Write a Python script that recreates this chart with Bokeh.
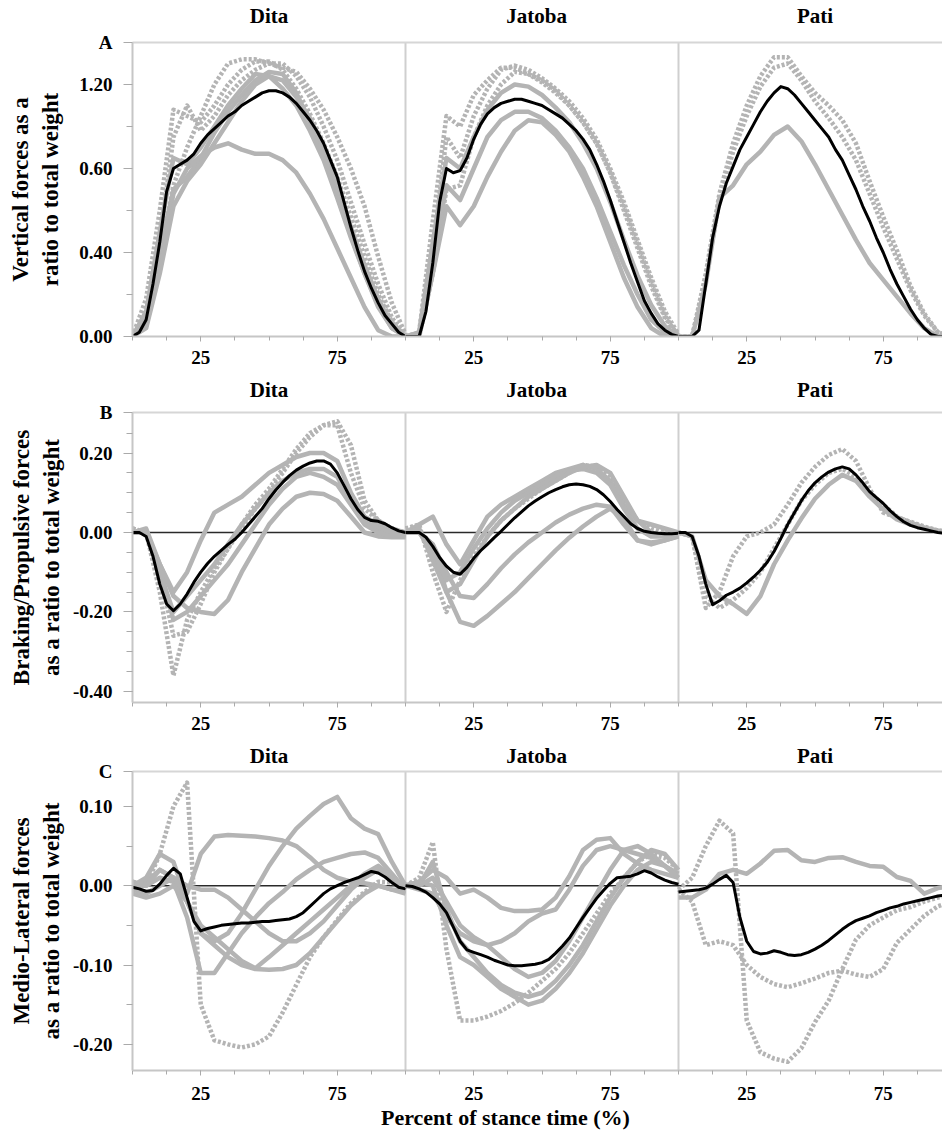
from bokeh.plotting import figure
from bokeh.layouts import column
from bokeh.models import FixedTicker, Span, LinearAxis, NumeralTickFormatter, Range1d
from bokeh.embed import file_html
from bokeh.resources import INLINE

# ---------------------------------------------------------------- data
SUBJECTS = ["Dita", "Jatoba", "Pati"]
X_TRIAL = [5 * i for i in range(21)]        # % stance, individual trials
X_MEAN = [2.5 * i for i in range(41)]       # % stance, mean curves

# A: vertical force / total weight
VERT_MEAN_DITA = [0.00, 0.02, 0.08, 0.25, 0.45, 0.69, 0.80, 0.82, 0.84, 0.87, 0.92, 0.96, 0.99, 1.02,
                  1.05, 1.07, 1.10, 1.12, 1.14, 1.16, 1.17, 1.17, 1.16, 1.14, 1.11, 1.07, 1.03, 0.98,
                  0.92, 0.84, 0.76, 0.64, 0.52, 0.41, 0.31, 0.23, 0.16, 0.10, 0.06, 0.02, 0.00]
VERT_MEAN_JATOBA = [0, 0, 0, 0.12, 0.35, 0.64, 0.80, 0.78, 0.79, 0.85, 0.94, 1.01, 1.06, 1.09, 1.11,
                    1.12, 1.13, 1.13, 1.12, 1.11, 1.10, 1.08, 1.06, 1.04, 1.01, 0.98, 0.94, 0.89, 0.82,
                    0.74, 0.65, 0.55, 0.45, 0.35, 0.26, 0.17, 0.11, 0.06, 0.03, 0.01, 0]
VERT_MEAN_PATI = [0, 0, 0, 0.03, 0.25, 0.47, 0.62, 0.73, 0.81, 0.89, 0.95, 1.01, 1.07, 1.12, 1.16, 1.19,
                  1.18, 1.15, 1.11, 1.07, 1.03, 0.99, 0.95, 0.89, 0.84, 0.77, 0.70, 0.62, 0.55, 0.47,
                  0.40, 0.32, 0.25, 0.19, 0.13, 0.08, 0.04, 0.01, 0, 0, 0]
VERT_TRIALS_DITA = [
    [0, 0.18, 0.60, 1.08, 1.05, 1.02, 1.10, 1.20, 1.27, 1.31, 1.31, 1.27, 1.18, 1.06, 0.92, 0.76, 0.57, 0.38, 0.20, 0.07, 0],
    [0, 0.10, 0.45, 0.95, 1.10, 0.98, 1.05, 1.15, 1.22, 1.27, 1.30, 1.30, 1.24, 1.14, 1.00, 0.84, 0.64, 0.44, 0.25, 0.09, 0],
    [0, 0.08, 0.40, 0.70, 0.76, 0.85, 0.97, 1.07, 1.15, 1.22, 1.26, 1.25, 1.16, 1.02, 0.86, 0.68, 0.48, 0.30, 0.15, 0.04, 0],
    [0, 0.05, 0.35, 0.68, 0.80, 0.86, 0.90, 0.92, 0.89, 0.87, 0.87, 0.84, 0.78, 0.68, 0.56, 0.42, 0.28, 0.14, 0.03, 0.0, 0],
    [0, 0.06, 0.38, 0.72, 0.90, 1.05, 1.20, 1.30, 1.32, 1.32, 1.30, 1.28, 1.26, 1.18, 1.08, 0.95, 0.80, 0.62, 0.38, 0.16, 0.01],
    [0, 0.12, 0.50, 0.85, 0.82, 0.90, 1.00, 1.10, 1.18, 1.25, 1.24, 1.18, 1.10, 0.98, 0.84, 0.66, 0.47, 0.30, 0.14, 0.04, 0],
    [0, 0.04, 0.30, 0.62, 0.74, 0.82, 0.92, 1.02, 1.12, 1.20, 1.24, 1.22, 1.14, 1.04, 0.90, 0.72, 0.52, 0.34, 0.18, 0.05, 0],
]
VERT_TRIALS_JATOBA = [
    [0, 0.02, 0.55, 1.05, 1.00, 1.15, 1.22, 1.28, 1.28, 1.25, 1.21, 1.16, 1.10, 1.02, 0.92, 0.78, 0.60, 0.42, 0.24, 0.09, 0],
    [0, 0.01, 0.40, 0.95, 0.85, 1.05, 1.18, 1.27, 1.29, 1.27, 1.23, 1.18, 1.12, 1.04, 0.94, 0.80, 0.64, 0.46, 0.28, 0.12, 0.01],
    [0, 0.0, 0.30, 0.62, 0.53, 0.62, 0.76, 0.88, 0.98, 1.03, 1.02, 0.96, 0.88, 0.76, 0.62, 0.45, 0.28, 0.14, 0.04, 0.0, 0],
    [0, 0.01, 0.35, 0.72, 0.65, 0.80, 0.95, 1.03, 1.07, 1.07, 1.04, 0.98, 0.90, 0.80, 0.66, 0.50, 0.34, 0.20, 0.08, 0.02, 0],
    [0, 0.02, 0.45, 0.85, 0.80, 0.95, 1.08, 1.16, 1.20, 1.19, 1.15, 1.09, 1.02, 0.92, 0.80, 0.64, 0.46, 0.29, 0.15, 0.05, 0],
    [0, 0.0, 0.30, 0.70, 0.72, 0.95, 1.10, 1.20, 1.26, 1.25, 1.22, 1.17, 1.10, 1.02, 0.92, 0.78, 0.62, 0.44, 0.26, 0.10, 0.0],
]
VERT_TRIALS_PATI = [
    [0, 0, 0.30, 0.68, 0.92, 1.10, 1.24, 1.33, 1.33, 1.24, 1.16, 1.10, 1.03, 0.92, 0.74, 0.57, 0.41, 0.24, 0.11, 0.02, 0],
    [0, 0, 0.28, 0.65, 0.88, 1.05, 1.19, 1.28, 1.30, 1.22, 1.12, 1.04, 0.95, 0.84, 0.68, 0.52, 0.37, 0.22, 0.10, 0.02, 0],
    [0, 0, 0.25, 0.66, 0.72, 0.82, 0.88, 0.96, 1.00, 0.93, 0.82, 0.70, 0.58, 0.46, 0.35, 0.27, 0.19, 0.11, 0.04, 0.0, 0],
]

# B: braking / propulsive force / total weight
BRAKE_MEAN_DITA = [0, 0, -0.01, -0.06, -0.13, -0.18, -0.197, -0.18, -0.155, -0.125, -0.10, -0.078, -0.06,
                   -0.045, -0.03, -0.017, 0.0, 0.02, 0.04, 0.06, 0.085, 0.107, 0.126, 0.143, 0.157, 0.167,
                   0.175, 0.18, 0.18, 0.172, 0.15, 0.118, 0.085, 0.058, 0.038, 0.03, 0.028, 0.022, 0.012,
                   0.004, 0]
BRAKE_MEAN_JATOBA = [0, 0, 0, -0.012, -0.035, -0.063, -0.085, -0.100, -0.105, -0.088, -0.065, -0.046, -0.03,
                     -0.013, 0.003, 0.02, 0.037, 0.052, 0.067, 0.079, 0.09, 0.10, 0.108, 0.115, 0.12, 0.122,
                     0.12, 0.116, 0.108, 0.095, 0.078, 0.058, 0.04, 0.022, 0.01, 0.003, 0.0, -0.002, -0.003,
                     -0.003, -0.002]
BRAKE_MEAN_PATI = [0, 0, -0.01, -0.06, -0.13, -0.182, -0.172, -0.158, -0.15, -0.14, -0.127, -0.112, -0.095,
                   -0.075, -0.048, -0.015, 0.02, 0.05, 0.08, 0.105, 0.125, 0.14, 0.152, 0.16, 0.165, 0.16,
                   0.145, 0.125, 0.103, 0.088, 0.073, 0.055, 0.04, 0.027, 0.018, 0.012, 0.008, 0.004, 0.0,
                   -0.002, -0.004]
BRAKE_TRIALS_DITA = [
    [0.01, 0.0, -0.15, -0.36, -0.22, -0.15, -0.09, -0.04, 0.01, 0.06, 0.10, 0.15, 0.20, 0.24, 0.27, 0.27, 0.15, 0.06, 0.03, 0.01, 0],
    [0.01, 0.0, -0.10, -0.26, -0.25, -0.18, -0.10, -0.04, 0.02, 0.07, 0.11, 0.16, 0.21, 0.25, 0.27, 0.28, 0.22, 0.08, 0.03, 0.01, 0],
    [0.0, 0.01, -0.08, -0.15, -0.10, -0.02, 0.05, 0.07, 0.09, 0.12, 0.15, 0.17, 0.19, 0.20, 0.20, 0.18, 0.10, 0.04, 0.02, 0.0, -0.01],
    [0.0, 0.0, -0.08, -0.16, -0.19, -0.20, -0.205, -0.17, -0.10, -0.04, 0.02, 0.06, 0.09, 0.10, 0.097, 0.08, 0.04, 0.0, -0.01, -0.012, -0.012],
    [0.0, 0.0, -0.10, -0.20, -0.16, -0.12, -0.08, -0.03, 0.02, 0.06, 0.10, 0.13, 0.15, 0.16, 0.16, 0.14, 0.08, 0.03, 0.01, 0.0, -0.01],
    [0.0, 0.0, -0.09, -0.22, -0.20, -0.16, -0.12, -0.08, -0.03, 0.02, 0.07, 0.11, 0.14, 0.15, 0.14, 0.12, 0.07, 0.02, 0.0, -0.01, -0.01],
]
BRAKE_TRIALS_JATOBA = [
    [0, 0, -0.03, -0.15, -0.225, -0.235, -0.21, -0.18, -0.15, -0.115, -0.08, -0.045, -0.013, 0.015, 0.04, 0.06, 0.035, -0.02, -0.03, -0.02, -0.01],
    [0, 0, -0.03, -0.10, -0.16, -0.165, -0.13, -0.09, -0.055, -0.025, 0.0, 0.025, 0.045, 0.06, 0.07, 0.065, 0.02, -0.02, -0.025, -0.02, -0.01],
    [0.01, 0.02, -0.10, -0.20, -0.12, -0.06, -0.01, 0.03, 0.06, 0.085, 0.11, 0.13, 0.15, 0.17, 0.165, 0.14, 0.08, 0.03, 0.01, 0.0, 0.0],
    [0, 0.02, 0.04, -0.03, -0.08, -0.02, 0.04, 0.07, 0.09, 0.11, 0.13, 0.15, 0.16, 0.17, 0.16, 0.13, 0.07, 0.03, 0.02, 0.01, 0.0],
    [0, 0.0, -0.05, -0.12, -0.10, -0.04, 0.01, 0.05, 0.08, 0.10, 0.12, 0.14, 0.155, 0.16, 0.15, 0.12, 0.06, 0.01, -0.01, -0.01, 0.0],
    [0, 0.01, -0.07, -0.15, -0.13, -0.07, -0.01, 0.03, 0.06, 0.09, 0.11, 0.13, 0.15, 0.165, 0.17, 0.15, 0.09, 0.03, 0.0, -0.01, -0.01],
]
BRAKE_TRIALS_PATI = [
    [0, -0.01, -0.19, -0.15, -0.06, -0.01, 0.0, 0.02, 0.07, 0.125, 0.165, 0.195, 0.21, 0.18, 0.11, 0.05, 0.038, 0.027, 0.015, 0.005, 0.0],
    [0, -0.01, -0.12, -0.16, -0.18, -0.205, -0.16, -0.08, -0.02, 0.035, 0.085, 0.12, 0.145, 0.13, 0.09, 0.058, 0.033, 0.02, 0.012, 0.005, 0.0],
    [0, -0.01, -0.16, -0.19, -0.17, -0.14, -0.10, -0.04, 0.02, 0.08, 0.12, 0.15, 0.16, 0.14, 0.10, 0.07, 0.04, 0.025, 0.012, 0.003, 0.0],
]

# C: medio-lateral force / total weight
ML_MEAN_DITA = [-0.002, -0.004, -0.007, -0.006, 0.002, 0.013, 0.022, 0.015, -0.015, -0.045, -0.057, -0.054,
                -0.052, -0.05, -0.049, -0.048, -0.047, -0.047, -0.046, -0.045, -0.045, -0.044, -0.043, -0.042,
                -0.039, -0.034, -0.026, -0.018, -0.01, -0.004, 0.0, 0.004, 0.007, 0.01, 0.014, 0.018, 0.016,
                0.011, 0.004, -0.002, -0.004]
ML_MEAN_JATOBA = [0, -0.001, -0.004, -0.008, -0.015, -0.023, -0.034, -0.052, -0.07, -0.081, -0.084, -0.087,
                  -0.09, -0.094, -0.097, -0.1, -0.101, -0.101, -0.1, -0.099, -0.097, -0.093, -0.085, -0.076,
                  -0.066, -0.053, -0.04, -0.028, -0.016, -0.006, 0.003, 0.01, 0.011, 0.012, 0.015, 0.019,
                  0.016, 0.011, 0.007, 0.004, 0.002]
ML_MEAN_PATI = [-0.008, -0.007, -0.006, -0.005, -0.003, 0.002, 0.008, 0.013, 0.004, -0.04, -0.07, -0.083,
                -0.086, -0.085, -0.082, -0.084, -0.087, -0.088, -0.087, -0.084, -0.08, -0.075, -0.069, -0.062,
                -0.055, -0.049, -0.044, -0.041, -0.038, -0.034, -0.031, -0.028, -0.026, -0.023, -0.021,
                -0.019, -0.017, -0.015, -0.013, -0.012, -0.011]
ML_TRIALS_DITA = [
    [0.005, 0.0, 0.04, 0.10, 0.13, -0.15, -0.195, -0.20, -0.204, -0.2, -0.19, -0.16, -0.125, -0.09, -0.065, -0.043, -0.022, -0.008, 0.005, 0.004, -0.002],
    [0.0, 0.005, 0.02, 0.01, -0.01, 0.04, 0.062, 0.064, 0.063, 0.062, 0.06, 0.057, 0.05, 0.036, 0.02, 0.01, 0.005, 0.003, 0.0, -0.005, -0.005],
    [0.0, 0.01, 0.04, 0.03, -0.02, -0.06, -0.07, -0.06, -0.035, -0.005, 0.025, 0.05, 0.072, 0.088, 0.103, 0.112, 0.085, 0.072, 0.065, 0.03, 0.0],
    [0.0, 0.0, 0.01, 0.005, -0.04, -0.11, -0.11, -0.085, -0.06, -0.04, -0.022, -0.008, 0.008, 0.02, 0.03, 0.035, 0.04, 0.042, 0.035, 0.015, -0.005],
    [-0.005, -0.01, 0.0, 0.01, -0.02, -0.05, -0.065, -0.08, -0.095, -0.104, -0.09, -0.075, -0.06, -0.045, -0.03, -0.015, 0.0, 0.015, 0.025, 0.012, -0.005],
    [-0.01, -0.015, -0.01, 0.0, -0.02, -0.06, -0.075, -0.09, -0.1, -0.105, -0.106, -0.105, -0.1, -0.085, -0.065, -0.045, -0.025, -0.01, 0.0, -0.005, -0.01],
    [0.005, 0.0, 0.02, 0.01, 0.0, -0.005, -0.005, -0.015, -0.03, -0.045, -0.06, -0.07, -0.07, -0.06, -0.045, -0.025, -0.005, 0.01, 0.02, 0.01, -0.005],
]
ML_TRIALS_JATOBA = [
    [0.0, 0.01, 0.055, -0.08, -0.17, -0.17, -0.165, -0.158, -0.148, -0.135, -0.12, -0.105, -0.085, -0.06, -0.035, -0.01, 0.01, 0.03, 0.04, 0.035, 0.02],
    [0.0, 0.005, 0.02, 0.01, -0.01, -0.005, -0.015, -0.028, -0.032, -0.032, -0.03, -0.015, 0.012, 0.045, 0.058, 0.06, 0.04, 0.028, 0.02, 0.015, 0.01],
    [0.0, 0.0, 0.03, -0.03, -0.07, -0.09, -0.11, -0.125, -0.135, -0.14, -0.135, -0.12, -0.1, -0.075, -0.045, -0.015, 0.01, 0.03, 0.045, 0.04, 0.02],
    [0.0, -0.005, -0.01, -0.04, -0.06, -0.07, -0.075, -0.07, -0.06, -0.045, -0.035, -0.03, -0.005, 0.025, 0.045, 0.05, 0.045, 0.04, 0.035, 0.025, 0.015],
    [0.0, 0.005, 0.0, -0.05, -0.09, -0.1, -0.115, -0.13, -0.14, -0.15, -0.145, -0.13, -0.11, -0.085, -0.055, -0.025, 0.0, 0.02, 0.03, 0.025, 0.01],
    [0.0, 0.0, 0.01, -0.02, -0.05, -0.065, -0.075, -0.09, -0.105, -0.115, -0.11, -0.095, -0.07, -0.04, -0.01, 0.02, 0.045, 0.05, 0.04, 0.025, 0.01],
]
ML_TRIALS_PATI = [
    [-0.005, 0.01, 0.05, 0.082, 0.066, -0.17, -0.21, -0.218, -0.222, -0.205, -0.172, -0.145, -0.105, -0.068, -0.05, -0.04, -0.031, -0.027, -0.02, -0.015, -0.012],
    [-0.015, -0.015, -0.005, 0.015, 0.02, 0.015, 0.028, 0.044, 0.045, 0.032, 0.03, 0.035, 0.036, 0.03, 0.025, 0.024, 0.011, 0.006, -0.01, -0.003, 0.0],
    [-0.005, -0.02, -0.075, -0.07, -0.075, -0.10, -0.115, -0.124, -0.128, -0.123, -0.117, -0.11, -0.107, -0.112, -0.115, -0.105, -0.072, -0.055, -0.038, -0.026, -0.02],
]

ROW_A = dict(letter="A", ylabel="Vertical forces as a\nratio to total weight",
             means=[VERT_MEAN_DITA, VERT_MEAN_JATOBA, VERT_MEAN_PATI],
             trials=[VERT_TRIALS_DITA, VERT_TRIALS_JATOBA, VERT_TRIALS_PATI],
             yticks=[0, 0.4, 0.8, 1.2], yminor=[0.2, 0.6, 1.0], overrides={0.8: "0.60"})
ROW_B = dict(letter="B", ylabel="Braking/Propulsive forces\nas a ratio to total weight",
             means=[BRAKE_MEAN_DITA, BRAKE_MEAN_JATOBA, BRAKE_MEAN_PATI],
             trials=[BRAKE_TRIALS_DITA, BRAKE_TRIALS_JATOBA, BRAKE_TRIALS_PATI],
             yticks=[-0.4, -0.2, 0, 0.2], yminor=[round(-0.4 + 0.05 * i, 2) for i in range(14)], overrides={})
ROW_C = dict(letter="C", ylabel="Medio-Lateral forces\nas a ratio to total weight",
             means=[ML_MEAN_DITA, ML_MEAN_JATOBA, ML_MEAN_PATI],
             trials=[ML_TRIALS_DITA, ML_TRIALS_JATOBA, ML_TRIALS_PATI],
             yticks=[-0.2, -0.1, 0, 0.1], yminor=[round(-0.2 + 0.05 * i, 2) for i in range(7)], overrides={})
X_LABEL = "Percent of stance time (%)"

# ---------------------------------------------------------------- style / layout
FONT = "Liberation Serif"
GRAY = "#b4b4b4"
AXIS_GRAY = "#c6c6c6"
W = 942
LEFT = 132
PX_PER_PCT = 2.73
X_END = (W - LEFT) / PX_PER_PCT
TITLE_X = [50, 148, 250]
X_LABEL_POS = 136.6
DOTTED = {("A", 0): [0, 1, 4], ("A", 1): [0, 1, 5], ("A", 2): [0, 1],
          ("B", 0): [0, 1], ("B", 1): [2], ("B", 2): [0, 2],
          ("C", 0): [0], ("C", 1): [0], ("C", 2): [0, 2]}


def style_text(ax, size):
    ax.major_label_text_font = FONT
    ax.major_label_text_font_style = "bold"
    ax.major_label_text_font_size = size
    ax.major_label_text_color = "black"


def make_row(row, height, top, bottom, y0, y1, title_standoff, xlab_standoff, label_standoff, zero_line):
    p = figure(width=W, height=height, x_range=Range1d(0, X_END), y_range=Range1d(y0, y1),
               output_backend="svg", toolbar_location=None,
               min_border_left=LEFT, min_border_right=0, min_border_top=top, min_border_bottom=bottom)
    p.xgrid.visible = False
    p.ygrid.visible = False
    p.outline_line_color = None

    for k in (1, 2):
        p.add_layout(Span(location=100 * k, dimension="height", line_color="#cfcfcf",
                          line_width=2, level="underlay"))
    if zero_line:
        p.add_layout(Span(location=0, dimension="width", line_color="#2a2a2a",
                          line_width=1.4, level="underlay"))

    for i in range(3):
        off = 100 * i
        dotted = DOTTED.get((row["letter"], i), [])
        for j, tr in enumerate(row["trials"][i]):
            p.line([x + off for x in X_TRIAL], tr, line_color=GRAY, line_width=4.5,
                   line_dash="3 2" if j in dotted else "solid", line_join="round")
        p.line([x + off for x in X_MEAN], row["means"][i], line_color="black", line_width=3,
               line_join="round")

    # subject titles on an axis above (also draws the top border)
    top_axis = LinearAxis(ticker=FixedTicker(ticks=TITLE_X, minor_ticks=[]),
                          axis_line_color="#d6d6d6", axis_line_width=2,
                          major_tick_line_color=None, minor_tick_line_color=None,
                          major_tick_in=0, major_tick_out=0,
                          major_label_standoff=title_standoff,
                          major_label_overrides={t: s for t, s in zip(TITLE_X, SUBJECTS)})
    style_text(top_axis, "21px")
    p.add_layout(top_axis, "above")

    xa = p.below[0]
    xa.ticker = FixedTicker(ticks=[25, 75, 125, 175, 225, 275],
                            minor_ticks=[12.5 * k for k in range(25)])
    xa.major_label_overrides = {125: "25", 175: "75", 225: "25", 275: "75"}
    xa.axis_line_color = AXIS_GRAY
    xa.axis_line_width = 2
    xa.major_tick_line_color = "#aaaaaa"
    xa.minor_tick_line_color = "#aaaaaa"
    xa.major_tick_in = 0
    xa.major_tick_out = 5
    xa.minor_tick_in = 0
    xa.minor_tick_out = 4
    xa.major_label_standoff = xlab_standoff
    style_text(xa, "19px")

    overrides = dict(row["overrides"])
    overrides[y1] = row["letter"]
    ya = p.left[0]
    ya.ticker = FixedTicker(ticks=row["yticks"] + [y1], minor_ticks=row["yminor"])
    ya.formatter = NumeralTickFormatter(format="0.00")
    ya.major_label_overrides = overrides
    ya.axis_line_color = AXIS_GRAY
    ya.axis_line_width = 2
    ya.major_tick_line_color = "#aaaaaa"
    ya.minor_tick_line_color = "#aaaaaa"
    ya.major_tick_in = 0
    ya.major_tick_out = 9
    ya.minor_tick_in = 0
    ya.minor_tick_out = 6
    ya.major_label_standoff = 11
    style_text(ya, "19px")
    ya.axis_label = row["ylabel"]
    ya.axis_label_text_font = FONT
    ya.axis_label_text_font_style = "bold"
    ya.axis_label_text_font_size = "23px"
    ya.axis_label_text_color = "black"
    ya.axis_label_standoff = label_standoff
    return p


pA = make_row(ROW_A, 374, 42, 38, 0.0, 1.4, 15, 9, 13, False)
pB = make_row(ROW_B, 366, 38, 38, -0.428, 0.302, 11, 9, 6, True)
pC = make_row(ROW_C, 408, 31, 78, -0.233, 0.144, 4, 11, 6, True)

# x-axis title, positioned under the stance-time axes of row C
title_axis = LinearAxis(ticker=FixedTicker(ticks=[X_LABEL_POS], minor_ticks=[]),
                        major_label_overrides={X_LABEL_POS: X_LABEL},
                        axis_line_color=None, major_tick_line_color=None, minor_tick_line_color=None,
                        major_tick_in=0, major_tick_out=0, major_label_standoff=2)
style_text(title_axis, "22px")
pC.add_layout(title_axis, "below")

layout = column(pA, pB, pC, spacing=0)
open("out.html", "w").write(file_html(layout, INLINE))
